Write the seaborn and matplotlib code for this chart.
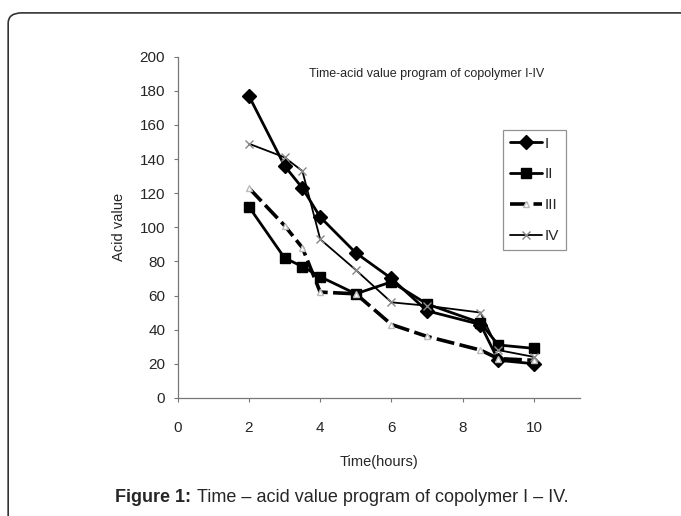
import pandas as pd
import matplotlib.pyplot as plt
import seaborn as sns
from matplotlib.patches import FancyBboxPatch

# Data
time_h = [2, 3, 3.5, 4, 5, 6, 7, 8.5, 9, 10]
acid_I = [177, 136, 123, 106, 85, 70, 51, 43, 22, 20]
acid_II = [112, 82, 77, 71, 61, 68, 55, 44, 31, 29]
acid_III = [123, 101, 88, 62, 61, 43, 36, 28, 23, 22]
acid_IV = [149, 141, 133, 93, 75, 56, 54, 50, 28, 24]
series_names = ['I', 'II', 'III', 'IV']

df = pd.DataFrame({
    'time': time_h * 4,
    'acid': acid_I + acid_II + acid_III + acid_IV,
    'series': [s for s in series_names for _ in time_h],
})

sns.set_style('white')
plt.rcParams['font.family'] = ['Liberation Sans', 'DejaVu Sans']

fig = plt.figure(figsize=(6.81, 5.16), dpi=100)
ax = fig.add_axes([0.261, 0.229, 0.591, 0.661])

styles = {
    'I': dict(marker='D', ms=7, lw=2.0, ls='-', mfc='black', mec='black', mew=1.0),
    'II': dict(marker='s', ms=7, lw=2.0, ls='-', mfc='black', mec='black', mew=1.0),
    'III': dict(marker='^', ms=5, lw=2.6, ls=(0, (5, 1.5)), mfc='white', mec='#bbbbbb', mew=1.0),
    'IV': dict(marker='x', ms=6, lw=1.3, ls='-', mfc='none', mec='#888888', mew=1.0),
}

for name in series_names:
    sub = df[df['series'] == name]
    st = styles[name]
    sns.lineplot(data=sub, x='time', y='acid', ax=ax, label=name, color='black',
                 linewidth=st['lw'], linestyle=st['ls'], marker=st['marker'],
                 markersize=st['ms'], markerfacecolor=st['mfc'],
                 markeredgecolor=st['mec'], markeredgewidth=st['mew'],
                 estimator=None, sort=False)

ax.set_xlim(0, 11.3)
ax.set_ylim(0, 200)
ax.set_xticks([0, 2, 4, 6, 8, 10])
ax.set_yticks(range(0, 201, 20))
ax.tick_params(axis='both', labelsize=11, direction='out', length=3, width=0.8,
               color='#777777', bottom=True, left=True)
ax.tick_params(axis='x', pad=14)
ax.tick_params(axis='y', pad=6)

for side in ['top', 'right']:
    ax.spines[side].set_visible(False)
for side in ['left', 'bottom']:
    ax.spines[side].set_color('#777777')
    ax.spines[side].set_linewidth(0.9)

ax.set_xlabel('Time(hours)', fontsize=10.5, labelpad=14)
ax.set_ylabel('Acid value', fontsize=10.5, labelpad=10)

ax.text(0.619, 0.95, 'Time-acid value program of copolymer I-IV', transform=ax.transAxes,
        ha='center', va='center', fontsize=9)

leg = ax.legend(loc='upper left', bbox_to_anchor=(0.808, 0.786), frameon=True, fancybox=False,
                fontsize=11, handlelength=2.1, labelspacing=1.1, handletextpad=0.2,
                borderpad=0.45, borderaxespad=0)
leg.get_frame().set_edgecolor('#777777')
leg.get_frame().set_linewidth(0.9)

# rounded border round the figure
border = FancyBboxPatch((0.012, -0.05), 1.1, 1.025, boxstyle='round,pad=0,rounding_size=0.02',
                        transform=fig.transFigure, fill=False, edgecolor='#333333', linewidth=1.2,
                        clip_on=False)
fig.patches.append(border)

# caption: bold label followed by plain text
cap_y = 1 - 498 / 516
t1 = fig.text(115 / 681, cap_y, 'Figure 1:', fontsize=13, fontweight='bold', ha='left', va='center')
renderer = fig.canvas.get_renderer()
bb = t1.get_window_extent(renderer=renderer)
fig.text((bb.x1 + 6) / fig.bbox.width, cap_y, 'Time \u2013 acid value program of copolymer I \u2013 IV.',
         fontsize=13, ha='left', va='center')

fig.savefig('out.png', dpi=100)
